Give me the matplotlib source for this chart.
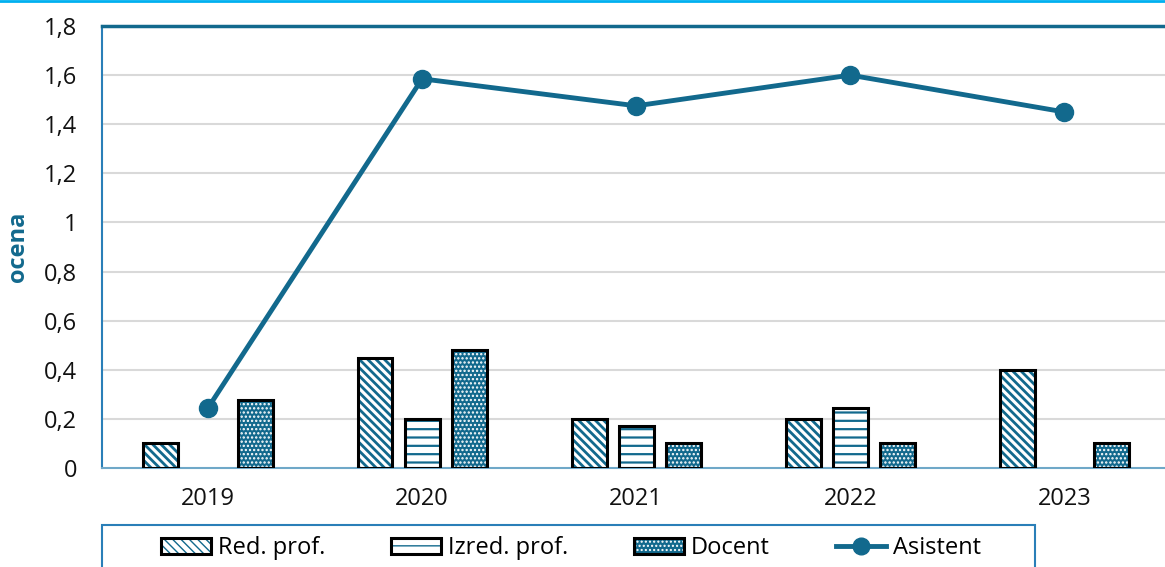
import numpy as np
import matplotlib
matplotlib.use('Agg')
import matplotlib.pyplot as plt
from matplotlib.patches import Rectangle, Patch
from matplotlib.lines import Line2D
from matplotlib.legend_handler import HandlerTuple

years = ['2019', '2020', '2021', '2022', '2023']
red_prof = [0.1, 0.45, 0.2, 0.2, 0.4]
izred_prof = [0, 0.2, 0.17, 0.245, 0]
docent = [0.275, 0.48, 0.1, 0.1, 0.1]
asistent = [0.245, 1.585, 1.475, 1.6, 1.45]
y_ticks = [0, 0.2, 0.4, 0.6, 0.8, 1.0, 1.2, 1.4, 1.6, 1.8]

teal = '#12698d'
plt.rcParams['font.family'] = ['Open Sans', 'DejaVu Sans']

fig = plt.figure(figsize=(11.65, 5.67), dpi=100)
ax = fig.add_axes([0.0876, 0.1746, 0.9124, 0.7795])

x = np.arange(len(years))
width = 0.163
offset = 0.22

# hatch style per series: (hatch, face, hatch colour, hatch linewidth)
styles = {
    'red': ('\\\\\\\\', 'white', teal, 2.0),
    'izred': ('--', 'white', teal, 1.6),
    'docent': ('....', teal, 'white', 1.1),
}


def hatched_bars(xs, vals, key):
    hatch, face, hcol, hlw = styles[key]
    vals = np.array(vals)
    keep = vals > 0
    with plt.rc_context({'hatch.linewidth': hlw}):
        ax.bar(xs[keep], vals[keep], width, color=face, edgecolor=hcol,
               hatch=hatch, linewidth=0, zorder=2)
    ax.bar(xs[keep], vals[keep], width, facecolor='none', edgecolor='black',
           linewidth=2.2, zorder=3)


def legend_patch(key):
    hatch, face, hcol, hlw = styles[key]
    with plt.rc_context({'hatch.linewidth': hlw}):
        p = Patch(facecolor=face, edgecolor=hcol, hatch=hatch, linewidth=0)
    return (p, Patch(facecolor='none', edgecolor='black', linewidth=2.2))


hatched_bars(x - offset, red_prof, 'red')
hatched_bars(x, izred_prof, 'izred')
hatched_bars(x + offset, docent, 'docent')

ax.plot(x, asistent, color=teal, linewidth=3.5, marker='o', markersize=13, zorder=4)

ax.set_xlim(-0.495, 4.47)
ax.set_ylim(0, 1.8)
ax.set_yticks(y_ticks)
ax.set_yticklabels([('%g' % v).replace('.', ',') for v in y_ticks])
ax.set_xticks(x)
ax.set_xticklabels(years)
ax.tick_params(axis='both', length=0, labelsize=17, labelcolor='#111111')
ax.tick_params(axis='y', pad=18)
ax.tick_params(axis='x', pad=14)
for v in y_ticks[1:-1]:
    ax.axhline(v, color='#d9d9d9', linewidth=1.5, zorder=1)

ax.spines['right'].set_visible(False)
ax.spines['top'].set_color(teal)
ax.spines['top'].set_linewidth(2.5)
ax.spines['left'].set_color('#2a7fb8')
ax.spines['left'].set_linewidth(1.5)
ax.spines['bottom'].set_color('#6fa8c8')
ax.spines['bottom'].set_linewidth(1.5)

ax.set_ylabel('ocena', fontsize=17, fontweight='bold', color=teal)
ax.yaxis.set_label_coords(-0.068, 0.5)

# top cyan rule
fig.add_artist(Line2D([0, 1], [0.998, 0.998], color='#00b0f0', linewidth=2,
                      transform=fig.transFigure))

# legend frame
fig.add_artist(Rectangle((102 / 1165, -0.05), (1035 - 102) / 1165, 0.05 + 42 / 567,
                         transform=fig.transFigure, facecolor='white',
                         edgecolor='#2a7fb8', linewidth=1.5))

h_asi = Line2D([], [], color=teal, linewidth=3.5, marker='o', markersize=12)
fig.legend([legend_patch('red'), legend_patch('izred'), legend_patch('docent'), h_asi],
           ['Red. prof.', 'Izred. prof.', 'Docent', 'Asistent'],
           handler_map={tuple: HandlerTuple(ndivide=1)},
           loc='center', bbox_to_anchor=(0.49, 0.033), ncol=4,
           frameon=False, fontsize=17, handlelength=2.1, handleheight=0.68,
           handletextpad=0.3, columnspacing=2.8)

fig.savefig('out.png', dpi=100)
